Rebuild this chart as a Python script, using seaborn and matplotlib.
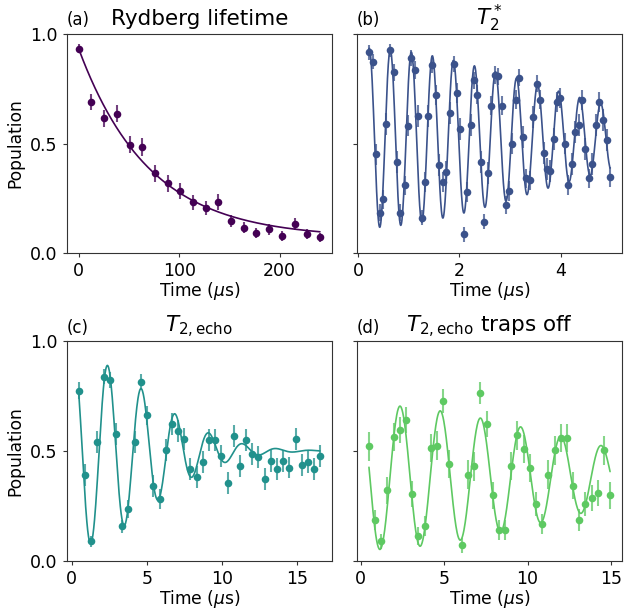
import numpy as np
import matplotlib
matplotlib.use("Agg")
import matplotlib.pyplot as plt
import seaborn as sns

# --------------------------------------------------
# Data

# (a) Rydberg lifetime
t_a = [0.0, 12.6, 25.3, 37.9, 50.5, 63.2, 75.8, 88.4, 101.1, 113.7,
       126.3, 138.9, 151.6, 164.2, 176.8, 189.5, 202.1, 214.7, 227.4, 240.0]
p_a = [0.932, 0.689, 0.614, 0.636, 0.495, 0.485, 0.364, 0.318, 0.282, 0.233,
       0.206, 0.233, 0.148, 0.117, 0.091, 0.109, 0.079, 0.132, 0.088, 0.073]
err_a = [0.02, 0.037, 0.039, 0.038, 0.04, 0.04, 0.038, 0.037, 0.036, 0.034,
         0.032, 0.038, 0.028, 0.026, 0.023, 0.025, 0.022, 0.027, 0.023, 0.021]

# (b) T2*
t_b = [0.217, 0.296, 0.361, 0.427, 0.499, 0.558, 0.637, 0.703, 0.768, 0.834,
       0.920, 0.979, 1.044, 1.117, 1.180, 1.254, 1.327, 1.386, 1.458, 1.537,
       1.596, 1.668, 1.734, 1.806, 1.885, 1.944, 2.016, 2.082, 2.148, 2.220,
       2.286, 2.345, 2.424, 2.490, 2.560, 2.627, 2.700, 2.770, 2.837, 2.910,
       2.975, 3.034, 3.113, 3.180, 3.245, 3.317, 3.383, 3.448, 3.527, 3.593,
       3.672, 3.730, 3.790, 3.862, 3.928, 3.993, 4.079, 4.145, 4.217, 4.282,
       4.355, 4.420, 4.486, 4.558, 4.624, 4.690, 4.762, 4.841, 4.906, 4.972]
p_b = [0.915, 0.873, 0.450, 0.185, 0.245, 0.589, 0.924, 0.824, 0.415, 0.185,
       0.309, 0.582, 0.889, 0.836, 0.627, 0.162, 0.323, 0.624, 0.858, 0.720,
       0.400, 0.323, 0.370, 0.639, 0.862, 0.730, 0.564, 0.086, 0.279, 0.586,
       0.788, 0.723, 0.415, 0.144, 0.367, 0.673, 0.811, 0.806, 0.673, 0.220,
       0.285, 0.500, 0.700, 0.800, 0.530, 0.341, 0.332, 0.621, 0.773, 0.700,
       0.455, 0.385, 0.374, 0.521, 0.689, 0.708, 0.500, 0.312, 0.405, 0.552,
       0.586, 0.697, 0.476, 0.341, 0.405, 0.586, 0.688, 0.609, 0.518, 0.348]
err_b = [0.035, 0.035, 0.05, 0.04, 0.045, 0.05, 0.03, 0.04, 0.05, 0.04,
         0.045, 0.05, 0.035, 0.04, 0.05, 0.035, 0.045, 0.05, 0.035, 0.045,
         0.05, 0.045, 0.05, 0.05, 0.035, 0.045, 0.05, 0.035, 0.045, 0.05,
         0.04, 0.045, 0.05, 0.035, 0.05, 0.045, 0.04, 0.04, 0.045, 0.04,
         0.045, 0.05, 0.045, 0.04, 0.05, 0.045, 0.045, 0.05, 0.04, 0.045,
         0.05, 0.05, 0.05, 0.05, 0.045, 0.045, 0.05, 0.045, 0.05, 0.05,
         0.05, 0.045, 0.05, 0.045, 0.05, 0.05, 0.045, 0.05, 0.05, 0.045]

# (c) T2 echo
t_c = [0.47, 0.89, 1.29, 1.71, 2.13, 2.55, 2.95, 3.37, 3.77, 4.19,
       4.62, 5.01, 5.44, 5.86, 6.26, 6.68, 7.10, 7.50, 7.90, 8.32,
       8.74, 9.14, 9.56, 9.96, 10.38, 10.78, 11.18, 11.60, 12.03, 12.42,
       12.85, 13.27, 13.67, 14.09, 14.49, 14.91, 15.31, 15.71, 16.13, 16.53]
p_c = [0.774, 0.388, 0.088, 0.539, 0.838, 0.823, 0.576, 0.156, 0.236, 0.542,
       0.815, 0.661, 0.341, 0.282, 0.502, 0.621, 0.592, 0.553, 0.417, 0.380,
       0.447, 0.550, 0.548, 0.477, 0.353, 0.567, 0.432, 0.550, 0.485, 0.470,
       0.373, 0.455, 0.417, 0.452, 0.424, 0.552, 0.436, 0.448, 0.417, 0.477]
err_c = [0.04, 0.05, 0.025, 0.05, 0.035, 0.035, 0.05, 0.03, 0.04, 0.05,
         0.035, 0.045, 0.05, 0.045, 0.05, 0.05, 0.05, 0.05, 0.05, 0.05,
         0.05, 0.05, 0.05, 0.05, 0.05, 0.05, 0.05, 0.05, 0.05, 0.05,
         0.05, 0.05, 0.05, 0.05, 0.05, 0.05, 0.05, 0.05, 0.05, 0.05]

# (d) T2 echo, traps off
t_d = [0.50, 0.86, 1.22, 1.60, 1.98, 2.34, 2.72, 3.10, 3.46, 3.83,
       4.21, 4.57, 4.95, 5.31, 6.07, 6.43, 6.79, 7.17, 7.55, 7.91,
       8.29, 8.65, 9.03, 9.39, 9.77, 10.13, 10.50, 10.88, 11.24, 11.62,
       11.98, 12.36, 12.72, 13.10, 13.46, 13.84, 14.22, 14.58, 14.94]
p_d = [0.520, 0.185, 0.088, 0.320, 0.562, 0.595, 0.641, 0.303, 0.111, 0.156,
       0.512, 0.524, 0.727, 0.439, 0.070, 0.391, 0.429, 0.762, 0.621, 0.297,
       0.139, 0.139, 0.430, 0.570, 0.509, 0.421, 0.259, 0.168, 0.391, 0.502,
       0.558, 0.558, 0.342, 0.185, 0.259, 0.285, 0.308, 0.502, 0.297]
err_d = [0.065, 0.045, 0.035, 0.06, 0.065, 0.06, 0.06, 0.06, 0.04, 0.045,
         0.065, 0.065, 0.055, 0.065, 0.035, 0.065, 0.065, 0.05, 0.06, 0.06,
         0.045, 0.045, 0.065, 0.065, 0.065, 0.065, 0.055, 0.045, 0.065, 0.065,
         0.065, 0.065, 0.06, 0.05, 0.055, 0.06, 0.06, 0.065, 0.06]

# fit parameters (estimated from the drawn curves)
fit_a = dict(offset=0.07, amp=0.86, tau=70.0)
fit_b = dict(offset=0.525, amp=0.41, T=4.9, period=0.4151, t0=0.222)
fit_c = dict(offset=0.50, amp=0.436, T=7.05, period=2.25, t0=2.385)
fit_d = dict(offset=0.38, amp=0.331, T=15.8, period=2.41, t0=2.36)


def decay(t, offset, amp, tau):
    return offset + amp * np.exp(-t / tau)


def ramsey(t, offset, amp, T, period, t0):
    return offset + amp * np.exp(-(t / T) ** 2) * np.cos(2 * np.pi * (t - t0) / period)


# --------------------------------------------------
# Style

sns.set_style("ticks")
plt.rcParams["font.family"] = ["DejaVu Sans"]
plt.rcParams["xtick.labelsize"] = 12.5
plt.rcParams["ytick.labelsize"] = 12.5
plt.rcParams["axes.labelsize"] = 12.3
plt.rcParams["xtick.major.size"] = 3
plt.rcParams["ytick.major.size"] = 3
plt.rcParams["axes.edgecolor"] = "0.2"
plt.rcParams["text.color"] = "black"
plt.rcParams["axes.labelcolor"] = "black"
plt.rcParams["xtick.color"] = "0.2"
plt.rcParams["ytick.color"] = "0.2"
plt.rcParams["xtick.labelcolor"] = "black"
plt.rcParams["ytick.labelcolor"] = "black"

colors = sns.color_palette("viridis", as_cmap=True)
col_a, col_b, col_c, col_d = colors(0.0), colors(0.25), colors(0.5), colors(0.75)

fig, axes = plt.subplots(2, 2, figsize=(6.24, 6.14), dpi=100, sharey=True)
fig.subplots_adjust(left=0.107, right=0.997, bottom=0.087, top=0.945,
                    wspace=0.094, hspace=0.40)

panels = [
    (axes[0, 0], t_a, p_a, err_a, col_a, "(a)", "Rydberg lifetime", [0, 100, 200]),
    (axes[0, 1], t_b, p_b, err_b, col_b, "(b)", r"$T_2^*$", [0, 2, 4]),
    (axes[1, 0], t_c, p_c, err_c, col_c, "(c)", r"$T_{2,\mathrm{echo}}$", [0, 5, 10, 15]),
    (axes[1, 1], t_d, p_d, err_d, col_d, "(d)", r"$T_{2,\mathrm{echo}}$ traps off", [0, 5, 10, 15]),
]
fits = [fit_a, fit_b, fit_c, fit_d]

for i, (ax, t, p, err, c, tag, title, xt) in enumerate(panels):
    tt = np.linspace(t[0], t[-1], 600)
    if i == 0:
        yy = decay(tt, **fits[i])
    else:
        yy = ramsey(tt, **fits[i])

    sns.lineplot(x=tt, y=yy, ax=ax, color=c, lw=1.2)

    ax.errorbar(t, p, yerr=err, fmt="none", ecolor=c, elinewidth=1.5, alpha=0.75)
    sns.scatterplot(x=t, y=p, ax=ax, color=c, s=30, edgecolor=c, linewidth=0, zorder=3)

    ax.set_title(title, fontsize=15.5)
    ax.set_title(tag, loc="left", fontsize=12)
    ax.set_xticks(xt)
    ax.set_xlabel(r"Time ($\mu$s)", labelpad=0)
    for s in ax.spines.values():
        s.set_visible(True)

axes[0, 0].set_ylim(0, 1)
axes[0, 0].set_yticks([0, 0.5, 1.0])
axes[0, 0].set_ylabel("Population")
axes[1, 0].set_ylabel("Population")

plt.savefig("out.png", dpi=100)
